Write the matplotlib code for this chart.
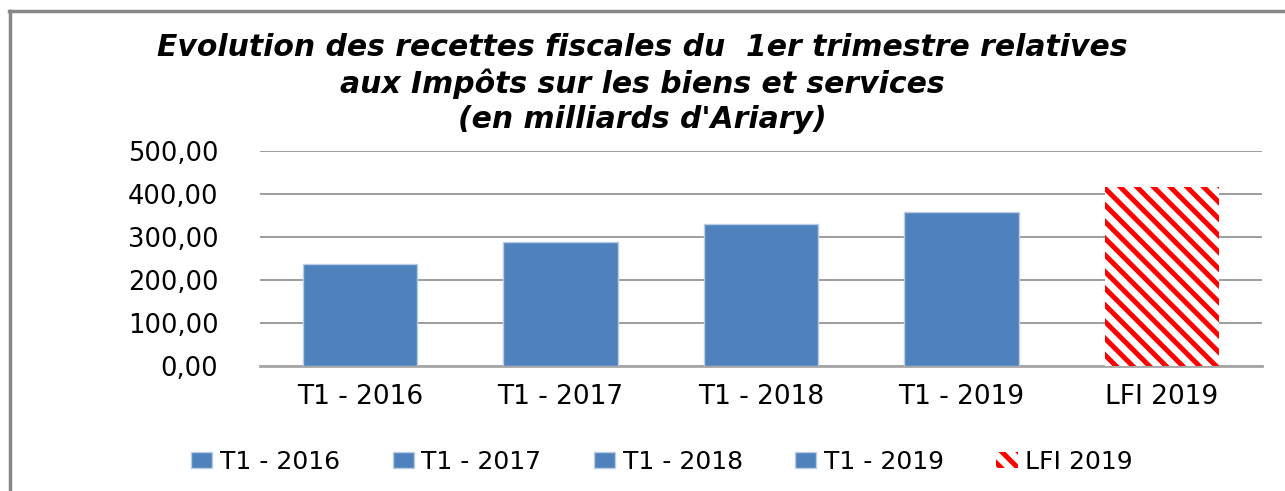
import matplotlib.pyplot as plt
from matplotlib.ticker import FuncFormatter
from matplotlib.lines import Line2D

# Data (milliards d'Ariary)
categories = ['T1 - 2016', 'T1 - 2017', 'T1 - 2018', 'T1 - 2019', 'LFI 2019']
values = [238, 288, 331, 359, 416]
y_ticks = [0, 100, 200, 300, 400, 500]

blue = '#4F81BD'
plt.rcParams['hatch.linewidth'] = 3.6

fig = plt.figure(figsize=(12.85, 4.91), dpi=100)
ax = fig.add_axes([260 / 1285, 1 - 366 / 491, 1002 / 1285, 215 / 491])

x = range(len(categories))
for i, (cat, val) in enumerate(zip(categories, values)):
    if cat.startswith('LFI'):
        ax.bar(i, val, width=0.57, facecolor='white', edgecolor='#FF0000',
               linewidth=0, hatch='\\\\', label=cat, zorder=3)
    else:
        ax.bar(i, val, width=0.57, color=blue, edgecolor='#B9CDE5',
               linewidth=1, label=cat, zorder=3)

ax.set_xlim(-0.5, len(categories) - 0.5)
ax.set_ylim(0, 500)
ax.set_yticks(y_ticks)
ax.yaxis.set_major_formatter(FuncFormatter(lambda v, p: f'{v:.2f}'.replace('.', ',')))
ax.grid(axis='y', color='#8C8C8C', linewidth=1.2, zorder=0)
ax.set_axisbelow(True)
for s in ['top', 'right', 'left']:
    ax.spines[s].set_visible(False)
ax.spines['bottom'].set_color('#A6A6A6')
ax.spines['bottom'].set_linewidth(2)
ax.tick_params(axis='both', length=0)
ax.tick_params(axis='y', pad=30, labelsize=18.5)
ax.tick_params(axis='x', pad=13, labelsize=19)
ax.set_xticks(list(x))
ax.set_xticklabels(categories, family='DejaVu Sans')
for lbl in ax.get_yticklabels():
    lbl.set_family('DejaVu Sans')

fig.text(0.5, 1 - 33 / 491,
         "Evolution des recettes fiscales du  1er trimestre relatives\n"
         "aux Impôts sur les biens et services\n(en milliards d'Ariary)",
         ha='center', va='top', fontsize=21.5, fontstyle='italic', fontweight='bold',
         family='DejaVu Sans', linespacing=1.26)

fig.legend(loc='center', bbox_to_anchor=(662 / 1285, 1 - 462 / 491), ncol=5,
           frameon=False, fontsize=18, handlelength=0.85, handleheight=0.6,
           handletextpad=0.3, columnspacing=2.1)

# outer chart border (top and left visible)
fig.add_artist(Line2D([9 / 1285, 1], [1 - 11 / 491, 1 - 11 / 491], color='#888888', linewidth=2.5))
fig.add_artist(Line2D([9.5 / 1285, 9.5 / 1285], [0, 1 - 11 / 491], color='#888888', linewidth=2.5))

fig.savefig('out.png', dpi=100)
